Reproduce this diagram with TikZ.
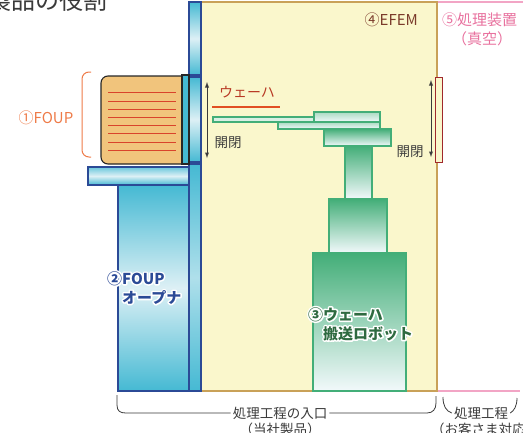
\documentclass[tikz,border=0pt]{standalone}
\usepackage{fontspec}
\setmainfont{Noto Sans CJK JP}
\usetikzlibrary{positioning}

\definecolor{navy}{HTML}{2B4A96}
\definecolor{cyanblue}{HTML}{45B9D3}
\definecolor{palecyan}{HTML}{DDF0F5}
\definecolor{foupfill}{HTML}{F1C47C}
\definecolor{wafred}{HTML}{D9432B}
\definecolor{efemfill}{HTML}{FAF7CC}
\definecolor{efemline}{HTML}{C9A158}
\definecolor{procpink}{HTML}{F2A5C5}
\definecolor{pinktext}{HTML}{E8719E}
\definecolor{browntext}{HTML}{7B3B2B}
\definecolor{orangetext}{HTML}{EE7B48}
\definecolor{robgreen}{HTML}{43AE78}
\definecolor{robpale}{HTML}{F2F9FB}
\definecolor{gatered}{HTML}{A0282C}
\definecolor{inkgray}{HTML}{3A3A3A}
\definecolor{labgreen}{HTML}{2E6A40}

% text with a white rim: name, position, colour, text
\newcommand{\rimlabel}[4]{%
  \node[rimtext, text=white] at (#2)
    {\special{pdf:literal direct 2 Tr 3 w 1 j}#4\special{pdf:literal direct 0 Tr 1 w}};
  \node[rimtext, text=#3] (#1) at (#2) {#4};
}

\begin{document}
\begin{tikzpicture}[x=1pt, y=-1pt,
  lbl/.style={font=\fontsize{13.5}{16}\selectfont, text=inkgray, inner sep=2pt},
  rimtext/.style={font=\bfseries\fontsize{15}{19}\selectfont, align=left, anchor=west, inner sep=0pt},
  blueline/.style={draw=navy, line width=1.1pt},
  robot/.style={top color=robgreen, bottom color=robpale, draw=robgreen, line width=1.1pt},
  bracket/.style={draw=inkgray, line width=0.8pt}]
\useasboundingbox (0,0) rectangle (523,432);
\clip (0,0) rectangle (523,432);

\node[font=\fontsize{24}{26}\selectfont, text=inkgray, anchor=base east, inner sep=0pt] (title) at (108,9) {製品の役割};

% EFEM and process chamber
\fill[efemfill] (201,2) rectangle (437,391);
\draw[efemline, line width=1.3pt] (201,2) -- (437,2) -- (437,391) -- (201,391);
\draw[procpink, line width=1.3pt] (438,2) -- (523,2);
\draw[procpink, line width=1.3pt] (438,391) -- (520,391);
\draw[gatered, fill=efemfill, line width=1pt] (435,77) rectangle (442,162);

% load port wall
\shade[top color=cyanblue, bottom color=cyanblue, middle color=palecyan] (189,2) rectangle (201,75);
\draw[blueline] (189,2) rectangle (201,75);
\shade[top color=cyanblue, bottom color=cyanblue, middle color=palecyan] (189,77) rectangle (201,162);
\draw[blueline] (189,77) rectangle (201,162);
\shade[top color=cyanblue, bottom color=cyanblue, middle color=palecyan!70!cyanblue] (189,164) rectangle (201,391);
\draw[blueline] (189,164) rectangle (201,391);

% opener body and stage
\shade[top color=cyanblue, bottom color=cyanblue, middle color=palecyan] (118,185) rectangle (189,391);
\draw[blueline] (118,185) rectangle (189,391);
\shade[top color=cyanblue!80, bottom color=cyanblue, middle color=palecyan] (88,167) rectangle (189,185);
\draw[blueline] (88,167) rectangle (189,185);

% FOUP
\draw[fill=foupfill, draw=black!85, line width=1.1pt] (182,76) [rounded corners=7pt] -- (101,76) -- (101,164) [sharp corners] -- (182,164) -- cycle;
\foreach \y in {92,101,109,117,125,133,142,150}
  \draw[wafred, line width=1pt] (108,\y) -- (176,\y);
\draw[fill=cyanblue, draw=black!85, line width=1.1pt] (182,75) rectangle (189,164);
\draw[orangetext, line width=1pt, rounded corners=7pt] (91,72) -- (82,72) -- (82,157) -- (91,157);

% robot
\draw[robot] (313,253) rectangle (406,391);
\draw[robot] (329,199) rectangle (387,253);
\draw[robot] (345,146) rectangle (372,199);
\draw[robot] (324,129) rectangle (391,146);
\draw[robot, top color=robgreen!45] (278,122) rectangle (380,129);
\draw[robot, top color=robgreen!45] (314,112) rectangle (380,122);
\draw[fill=robgreen!20, draw=robgreen, line width=1.1pt] (213,117) rectangle (314,122);

% open/close strokes
\coordinate (la1) at (207,82);
\coordinate (la2) at (207,158);
\coordinate (ra1) at (431,80);
\coordinate (ra2) at (431,157);
\draw[latex-latex, inkgray, line width=0.9pt] (la1) -- (la2);
\draw[latex-latex, inkgray, line width=0.9pt] (ra1) -- (ra2);
\node[lbl] (lopen) at (228,143) {開閉};
\node[lbl] (ropen) at (410,152) {開閉};

\node[lbl, text=wafred!85!black, font=\fontsize{14}{16}\selectfont] (wafer) at (247,92) {ウェーハ};
\draw[wafred!80!orange, line width=1.2pt] (212,107) -- (280,107);

% labels
\node[font=\fontsize{15}{18}\selectfont, text=orangetext, inner sep=0pt] (foup) at (46,118) {①FOUP};
\node[font=\fontsize{15}{18}\selectfont, text=browntext, anchor=east, inner sep=0pt] (efem) at (418,20) {④EFEM};
\node[font=\fontsize{15}{18}\selectfont, text=pinktext, anchor=west, inner sep=0pt] (proc) at (442,20) {⑤処理装置};
\node[font=\fontsize{15}{18}\selectfont, text=pinktext, inner sep=0pt] (vac) at (482,39) {（真空）};
\rimlabel{opener}{107,288}{navy}{②FOUP\\\phantom{②}オープナ}
\rimlabel{robotlbl}{308,324}{labgreen}{③ウェーハ\\\phantom{③}搬送ロボット}

% bottom brackets
\node[lbl] (entry) at (280,413) {処理工程の入口};
\node[lbl] (entrysub) at (280,429) {（当社製品）};
\node[lbl] (step) at (481,413) {処理工程};
\node[lbl] (stepsub) at (485,429) {（お客さま対応）};
\coordinate (b1l) at (117,395);
\coordinate (b1r) at (436,396);
\coordinate (b2l) at (443,397);
\coordinate (b2r) at (517,398);
\draw[bracket] (b1l) -- (117,405) .. controls (117,411) and (120,413) .. (126,413) -- (entry.west);
\draw[bracket] (entry.east) -- (427,413) .. controls (433,413) and (436,409) .. (436,403) -- (b1r);
\draw[bracket] (b2l) .. controls (443,406) and (446,411) .. (step.west);
\draw[bracket] (step.east) .. controls (514,411) and (517,406) .. (b2r);
\end{tikzpicture}
\end{document}
